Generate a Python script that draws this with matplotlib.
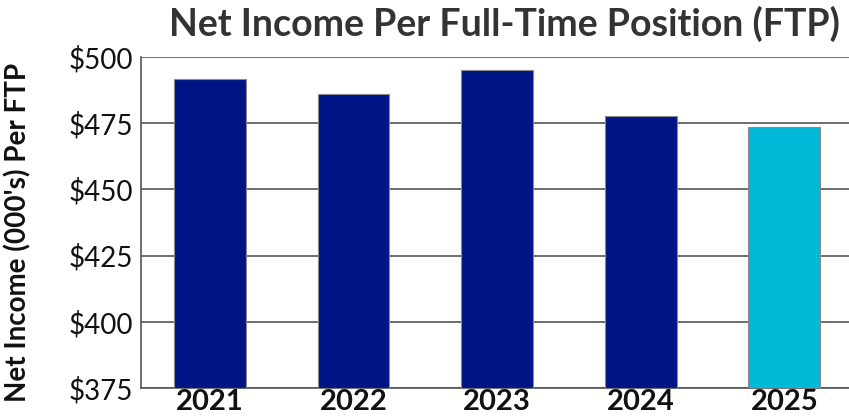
import matplotlib
matplotlib.use("Agg")
import matplotlib.pyplot as plt
import numpy as np

plt.rcParams["font.family"] = ["Lato", "DejaVu Sans"]

years = ["2021", "2022", "2023", "2024", "2025"]
net_income = [491.8, 486.2, 495.1, 477.9, 473.7]
bar_colors = ["#001585", "#001585", "#001585", "#001585", "#00B9D6"]
yticks = [375, 400, 425, 450, 475, 500]

fig = plt.figure(figsize=(8.49, 4.2), dpi=100)
ax = fig.add_axes([141 / 849, 1 - 388 / 420, (849 - 141) / 849, (388 - 57) / 420])

x = np.arange(len(years))
ax.bar(x, [v - 375 for v in net_income], 0.5, bottom=375, color=bar_colors,
       edgecolor="#8a8a8a", linewidth=0.8, zorder=3)

ax.set_ylim(375, 500)
ax.set_xlim(-0.48, 4.45)
ax.set_yticks(yticks)
ax.set_yticklabels([f"${v}" for v in yticks], fontsize=20, color="#111111")
ax.set_xticks(x)
ax.set_xticklabels(years, fontsize=21, fontweight="bold", color="#111111")
ax.tick_params(axis="both", length=0, pad=6)
ax.tick_params(axis="x", pad=1)
ax.grid(axis="y", color="#555555", lw=1.2, zorder=0)
for s in ["top", "right"]:
    ax.spines[s].set_visible(False)
ax.spines["left"].set_color("#555555")
ax.spines["bottom"].set_color("#555555")
ax.spines["left"].set_linewidth(1.2)
ax.spines["bottom"].set_linewidth(1.2)

fig.text(18 / 849, 1 - 232 / 420, "Net Income (000's) Per FTP", rotation=90,
         ha="center", va="center", fontsize=20, fontweight="bold", color="#111111")
fig.text(504 / 849, 1 - 24 / 420, "Net Income Per Full-Time Position (FTP)",
         ha="center", va="center", fontsize=27, fontweight="bold", color="#333333")

fig.savefig("out.png", dpi=100)
